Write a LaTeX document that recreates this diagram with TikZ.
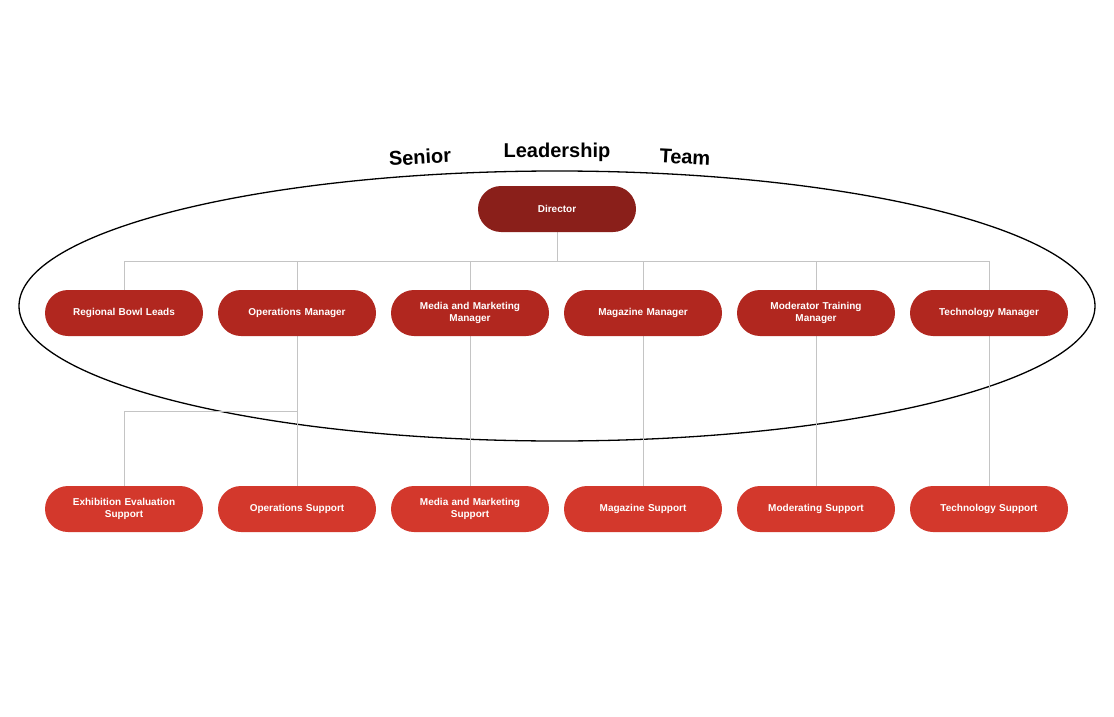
\documentclass[tikz,border=0pt]{standalone}
\usepackage{fontspec}
\setmainfont{Liberation Sans}
\usetikzlibrary{shapes.misc}
\definecolor{dirred}{HTML}{8A1F1A}
\definecolor{mgrred}{HTML}{B1271F}
\definecolor{supred}{HTML}{D3382C}
\definecolor{linegray}{HTML}{C4C4C4}
\begin{document}
\begin{tikzpicture}[x=1pt,y=-1pt,
  box/.style={rounded rectangle,draw=none,text=white,minimum width=160pt,minimum height=46pt,
    text width=140pt,align=center,inner sep=1pt,font=\fontsize{10}{12}\selectfont\bfseries},
  dnode/.style={box,fill=dirred},
  mnode/.style={box,fill=mgrred},
  snode/.style={box,fill=supred},
  link/.style={draw=linegray,line width=0.8pt},
  title/.style={font=\fontsize{20}{24}\selectfont\bfseries}]
  \useasboundingbox (0,0) rectangle (1114,717);
  \draw[line width=1.3pt] (557,306) ellipse [x radius=538, y radius=135];
  \node[title,rotate=3] (w1) at (420,157) {Senior};
  \node[title] (w2) at (557,152) {Leadership};
  \node[title,rotate=-3] (w3) at (685,157) {Team};

  \coordinate (hub) at (557,261);
  \coordinate (ops) at (297,411);
  \coordinate (opsl) at (124,411);

  \draw[link] (557,209) -- (hub);
  \draw[link] (124,261) -- (989,261);
  \foreach \x in {124,297,470,643,816,989}
    \draw[link] (\x,261) -- (\x,313);
  \foreach \x in {297,470,643,816,989}
    \draw[link] (\x,313) -- (\x,509);
  \draw[link] (ops) -- (opsl) -- (124,509);

  \node[dnode] (dir) at (557,209) {Director};
  \node[mnode] (m1) at (124,313) {Regional Bowl Leads};
  \node[mnode] (m2) at (297,313) {Operations Manager};
  \node[mnode] (m3) at (470,313) {Media and Marketing\\Manager};
  \node[mnode] (m4) at (643,313) {Magazine Manager};
  \node[mnode] (m5) at (816,313) {Moderator Training\\Manager};
  \node[mnode] (m6) at (989,313) {Technology Manager};
  \node[snode] (s1) at (124,509) {Exhibition Evaluation\\Support};
  \node[snode] (s2) at (297,509) {Operations Support};
  \node[snode] (s3) at (470,509) {Media and Marketing\\Support};
  \node[snode] (s4) at (643,509) {Magazine Support};
  \node[snode] (s5) at (816,509) {Moderating Support};
  \node[snode] (s6) at (989,509) {Technology Support};
\end{tikzpicture}
\end{document}
